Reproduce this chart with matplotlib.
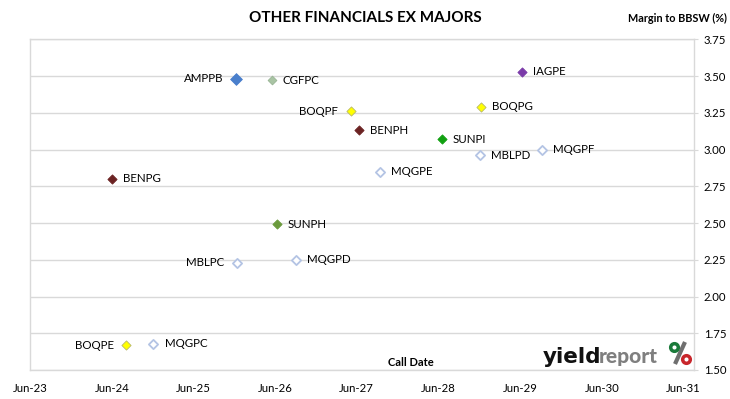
import matplotlib
matplotlib.use('Agg')
import matplotlib.pyplot as plt
import matplotlib.dates as mdates
import numpy as np
import datetime as dt

plt.rcParams['font.family'] = ['Lato', 'DejaVu Sans']

###############################################################
# Data
#
codes = ["AMPPB", "CGFPC", "BOQPF", "BOQPG", "BENPH", "SUNPI", "MBLPD", "MQGPF",
         "MQGPE", "BENPG", "SUNPH", "MBLPC", "MQGPD", "BOQPE", "MQGPC", "IAGPE"]
call_dates = ["2025-12-07", "2026-05-17", "2027-05-05", "2028-12-08", "2027-06-09",
              "2028-06-15", "2028-12-02", "2029-09-05", "2027-09-12", "2024-06-01",
              "2026-06-08", "2025-12-13", "2026-09-01", "2024-08-05", "2024-12-04",
              "2029-06-09"]
margins = [3.48, 3.47, 3.26, 3.29, 3.13, 3.07, 2.96, 3.00,
           2.85, 2.80, 2.49, 2.23, 2.25, 1.67, 1.68, 3.53]
tick_years = list(range(2023, 2032))

###############################################################
# Styles
#
hollow = dict(face="white", edge="#b4c4e4", size=22)
styles = {
    "AMPPB": dict(face="#4a7fcc", edge="#4a7fcc", size=36),
    "CGFPC": dict(face="#a9c4a4", edge="#98b494", size=20),
    "BOQPF": dict(face="#ffff00", edge="#b8b86a", size=22),
    "BOQPG": dict(face="#ffff00", edge="#b8b86a", size=22),
    "BOQPE": dict(face="#ffff00", edge="#b8b86a", size=22),
    "BENPH": dict(face="#6b2222", edge="#6b2222", size=22),
    "BENPG": dict(face="#6b2222", edge="#6b2222", size=22),
    "SUNPI": dict(face="#10a010", edge="#10a010", size=22),
    "SUNPH": dict(face="#6a9a3c", edge="#6a9a3c", size=22),
    "IAGPE": dict(face="#7a3aa8", edge="#7a3aa8", size=22),
}
labels_left = {"AMPPB", "BOQPF", "MBLPC", "BOQPE"}
grid_color = "#d9d9d9"

###############################################################
# Figure
#
figure = plt.figure(figsize=(7.30, 3.99), dpi=100)
axe = figure.add_axes([30 / 730, 1 - 370 / 399, 664 / 730, 330.7 / 399])

dates = [dt.datetime.strptime(d, "%Y-%m-%d") for d in call_dates]
for code, date, margin in zip(codes, dates, margins):
    st = styles.get(code, hollow)
    axe.scatter([date], [margin], marker="D", s=st["size"], facecolor=st["face"],
                edgecolor=st["edge"], linewidth=1.3 if st is hollow else 0.6, zorder=3)
    if code in labels_left:
        axe.annotate(code, (date, margin), xytext=(-9, 0), textcoords="offset points",
                     ha="right", va="center", fontsize=8.3, color="black")
    else:
        axe.annotate(code, (date, margin), xytext=(8, 0), textcoords="offset points",
                     ha="left", va="center", fontsize=8.3, color="black")

axe.set_xlim(dt.datetime(2023, 6, 1), dt.datetime(2031, 7, 18))
axe.set_ylim(1.5, 3.75)
axe.set_xticks([dt.datetime(y, 6, 1) for y in tick_years])
axe.xaxis.set_major_formatter(mdates.DateFormatter("%b-%y"))
axe.set_yticks(np.arange(1.5, 3.76, 0.25))
axe.yaxis.set_major_formatter(matplotlib.ticker.FormatStrFormatter("%.2f"))
axe.yaxis.tick_right()
axe.tick_params(axis="y", length=3, color=grid_color, labelsize=8.2, pad=4)
axe.tick_params(axis="x", length=0, labelsize=8.2, pad=9)
axe.grid(axis="y", color=grid_color, linewidth=1.0)
axe.set_axisbelow(True)
for spine in axe.spines.values():
    spine.set_color(grid_color)
    spine.set_linewidth(1.0)

###############################################################
# Titles and logo
#
figure.text(365 / 730, 1 - 18 / 399, "OTHER FINANCIALS EX MAJORS", ha="center", va="center",
            fontsize=11, fontweight="bold")
figure.text(727 / 730, 1 - 18 / 399, "Margin to BBSW (%)", ha="right", va="center",
            fontsize=7.8, fontweight="bold")
figure.text(411 / 730, 1 - 362 / 399, "Call Date", ha="center", va="center",
            fontsize=8, fontweight="bold")

figure.text(543 / 730, 1 - 363 / 399, "yield", ha="left", va="baseline",
            fontsize=15.5, fontweight="bold", color="#111111", family="DejaVu Sans")
figure.text(599 / 730, 1 - 363 / 399, "report", ha="left", va="baseline",
            fontsize=15, fontweight="black", color="#7f7f7f")
# the % sign of the logo: grey slash, green and red rings
figure.lines.append(matplotlib.lines.Line2D([675 / 730, 685 / 730], [1 - 364 / 399, 1 - 342 / 399],
                                            color="#6f6f6f", linewidth=3, zorder=4,
                                            solid_capstyle="butt",
                                            transform=figure.transFigure, figure=figure))
figure.lines.append(matplotlib.lines.Line2D([673.5 / 730], [1 - 347 / 399], marker="o", ms=5.5,
                                            mfc="white", mec="#1a7a3a", mew=2.5, zorder=5,
                                            transform=figure.transFigure, figure=figure))
figure.lines.append(matplotlib.lines.Line2D([686 / 730], [1 - 359 / 399], marker="o", ms=5.5,
                                            mfc="white", mec="#c8262c", mew=2.5, zorder=5,
                                            transform=figure.transFigure, figure=figure))

plt.savefig("out.png", dpi=100)
